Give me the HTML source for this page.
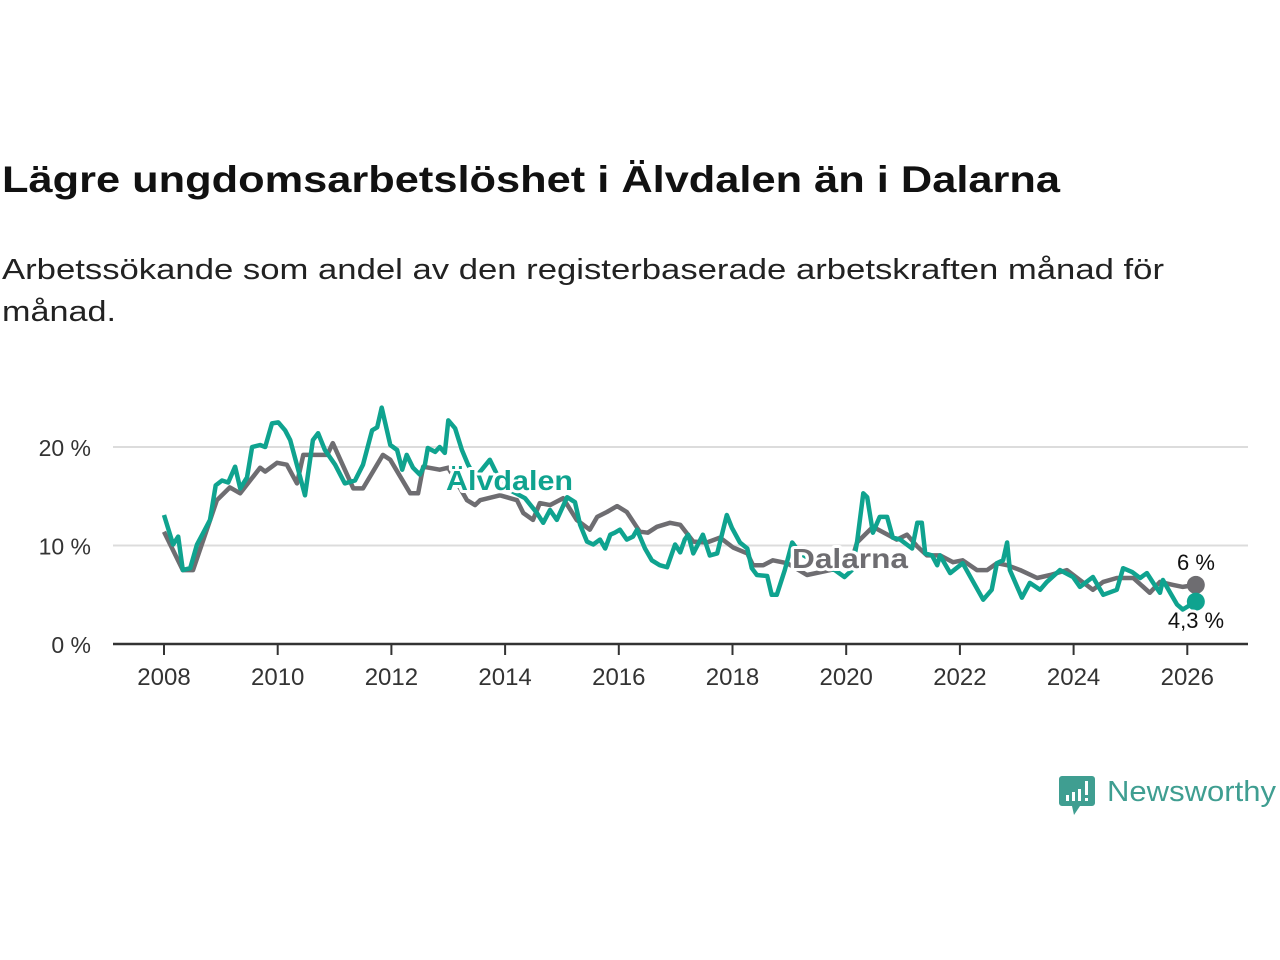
<!DOCTYPE html>
<html><head><meta charset="utf-8"><style>
html,body{margin:0;padding:0;background:#fff;}
svg{display:block;font-family:"Liberation Sans",sans-serif;}
.halo{paint-order:stroke;stroke:#fff;stroke-width:6px;stroke-linejoin:round;}
</style></head><body>
<svg id="chart" width="1280" height="960" viewBox="0 0 1280 960">
<text x="2" y="192" font-size="37" font-weight="bold" fill="#111" textLength="1058" lengthAdjust="spacingAndGlyphs">Lägre ungdomsarbetslöshet i Älvdalen än i Dalarna</text>
<text x="2" y="279" font-size="29" fill="#222" textLength="1162" lengthAdjust="spacingAndGlyphs">Arbetssökande som andel av den registerbaserade arbetskraften månad för</text>
<text x="2" y="321" font-size="29" fill="#222" textLength="114" lengthAdjust="spacingAndGlyphs">månad.</text>
<g id="grid"></g><g id="xaxis"></g><g id="series"></g><g id="labels"></g>
<g>
<path d="M1062 776 h30 a3 3 0 0 1 3 3 v24 a3 3 0 0 1 -3 3 h-12 l-6 9 l-2 -9 h-10 a3 3 0 0 1 -3 -3 v-24 a3 3 0 0 1 3 -3z" fill="#3f9e91"/>
<rect x="1066" y="795" width="3" height="6" fill="#fff"/><rect x="1072" y="792" width="3" height="9" fill="#fff"/><rect x="1078" y="789" width="3" height="12" fill="#fff"/><rect x="1085" y="781" width="3" height="14" fill="#fff"/><rect x="1085" y="798" width="3" height="3" fill="#fff"/>
<text x="1107" y="801" font-size="29" fill="#3f9e91" textLength="169" lengthAdjust="spacingAndGlyphs">Newsworthy</text>
</g>
</svg>
<script>
const yTicks=[0,10,20];
const xTicks=[2008,2010,2012,2014,2016,2018,2020,2022,2024,2026];
const dalYears=[2008.0,2008.33,2008.51,2008.93,2009.16,2009.34,2009.69,2009.78,2009.99,2010.16,2010.34,2010.45,2010.87,2010.97,2011.33,2011.5,2011.85,2011.98,2012.33,2012.47,2012.56,2012.85,2013.0,2013.33,2013.47,2013.56,2013.91,2014.21,2014.32,2014.49,2014.61,2014.79,2015.02,2015.26,2015.49,2015.62,2015.79,2015.97,2016.14,2016.37,2016.51,2016.67,2016.9,2017.08,2017.31,2017.55,2017.78,2018.01,2018.26,2018.36,2018.54,2018.71,2018.96,2019.31,2019.72,2020.07,2020.19,2020.47,2020.89,2021.07,2021.25,2021.42,2021.65,2021.88,2022.05,2022.3,2022.48,2022.65,2022.83,2023.06,2023.36,2023.59,2023.88,2024.11,2024.34,2024.52,2024.76,2025.05,2025.34,2025.52,2025.75,2025.92,2026.15];
const dalValues=[11.4,7.5,7.5,14.6,15.9,15.3,17.9,17.5,18.4,18.2,16.3,19.2,19.2,20.4,15.8,15.8,19.2,18.7,15.3,15.3,18,17.7,17.9,14.6,14.1,14.6,15.1,14.6,13.3,12.6,14.3,14.1,14.8,12.6,11.6,12.9,13.4,14,13.4,11.4,11.3,11.9,12.3,12.1,10.4,10.3,10.8,9.8,9.2,8,8,8.5,8.2,7.0,7.5,8,10.3,11.9,10.6,11.1,9.9,9,9,8.3,8.5,7.5,7.5,8.2,8,7.5,6.7,7,7.5,6.5,5.5,6.3,6.7,6.7,5.2,6.3,6,5.8,6];
const alvYears=[2008.0,2008.16,2008.25,2008.33,2008.46,2008.58,2008.72,2008.81,2008.91,2009.02,2009.13,2009.25,2009.34,2009.46,2009.55,2009.69,2009.78,2009.9,2010.01,2010.13,2010.22,2010.36,2010.48,2010.62,2010.71,2010.83,2011.01,2011.18,2011.36,2011.5,2011.66,2011.75,2011.83,2011.98,2012.1,2012.19,2012.27,2012.38,2012.5,2012.59,2012.64,2012.77,2012.85,2012.94,2013.0,2013.12,2013.24,2013.35,2013.47,2013.59,2013.73,2013.91,2014.09,2014.35,2014.56,2014.67,2014.79,2014.91,2015.09,2015.23,2015.32,2015.44,2015.55,2015.67,2015.76,2015.85,2015.93,2016.02,2016.14,2016.25,2016.32,2016.46,2016.58,2016.72,2016.85,2016.99,2017.08,2017.16,2017.22,2017.31,2017.48,2017.6,2017.73,2017.9,2017.99,2018.13,2018.26,2018.34,2018.43,2018.61,2018.69,2018.78,2018.92,2019.05,2019.19,2019.4,2019.6,2019.8,2019.97,2020.1,2020.19,2020.3,2020.37,2020.47,2020.59,2020.72,2020.82,2020.95,2021.16,2021.25,2021.33,2021.39,2021.51,2021.6,2021.65,2021.83,2022.05,2022.41,2022.56,2022.65,2022.76,2022.83,2022.88,2023.09,2023.23,2023.41,2023.53,2023.76,2023.99,2024.11,2024.34,2024.52,2024.76,2024.87,2025.03,2025.17,2025.29,2025.4,2025.52,2025.57,2025.7,2025.82,2025.92,2026.15];
const alvValues=[13.1,10.1,10.9,7.5,7.7,10.1,11.6,12.6,16.1,16.6,16.4,18,15.8,16.9,20,20.2,20,22.4,22.5,21.7,20.7,17.7,15.1,20.7,21.4,19.7,18.2,16.3,16.6,18.2,21.7,22,24,20.2,19.7,17.7,19.2,17.9,17.2,18.2,19.9,19.5,20,19.4,22.7,21.9,19.7,18.2,16.9,17.7,18.7,16.6,15.6,14.8,13.3,12.3,13.6,12.6,14.9,14.4,12.1,10.4,10.1,10.6,9.7,11.1,11.3,11.6,10.6,10.9,11.6,9.7,8.5,8,7.8,10.1,9.3,10.6,11.1,9.2,11.1,9,9.2,13.1,11.8,10.3,9.7,7.7,7,6.9,5,5,7.5,10.3,9.2,8.5,7.8,7.5,6.8,7.5,10.3,15.3,14.9,11.3,12.9,12.9,10.8,10.6,9.7,12.3,12.3,9.2,9,8,9,7.2,8.2,4.5,5.5,8.2,8.5,10.3,7.5,4.7,6.2,5.5,6.3,7.5,6.8,5.8,6.8,5,5.5,7.7,7.3,6.7,7.2,6.2,5.2,6.5,5.2,4,3.5,4.3];
const NS='http://www.w3.org/2000/svg';
const X0=113,X1=1248;
function xs(y){return 164+(y-2008)*56.85;}
function ys(v){return 644-v*9.85;}
function mk(tag,attrs,parent){const e=document.createElementNS(NS,tag);for(const k in attrs)e.setAttribute(k,attrs[k]);parent.appendChild(e);return e;}
const grid=document.getElementById('grid');
yTicks.forEach(t=>{
  if(t>0){const l=mk('line',{x1:X0,x2:X1,y1:ys(t),y2:ys(t),stroke:'#dcdcdc','stroke-width':2},grid);
  
  }
  const tx=mk('text',{x:91,y:ys(t)+9,'font-size':23,fill:'#333','text-anchor':'end'},grid);
  tx.textContent=t+' %';
  
  
});
const xa=document.getElementById('xaxis');
const ax=mk('line',{x1:X0,x2:X1,y1:644,y2:644,stroke:'#333','stroke-width':2.5},xa);


xTicks.forEach(t=>{
  const tk=mk('line',{x1:xs(t),x2:xs(t),y1:644,y2:655,stroke:'#333','stroke-width':2},xa);
  
  
  const tx=mk('text',{x:xs(t),y:685,'font-size':24,fill:'#333','text-anchor':'middle'},xa);
  tx.textContent=t;
  
  
});
const sg=document.getElementById('series');
function line(years,vals,color,name){
  const d=years.map((y,i)=>(i?'L':'M')+xs(y).toFixed(1)+' '+ys(vals[i]).toFixed(1)).join(' ');
  const p=mk('path',{d:d,fill:'none',stroke:color,'stroke-width':4.5,'stroke-linejoin':'round'},sg);
  
  
  const n=years.length-1;
  const c=mk('circle',{cx:xs(years[n]),cy:ys(vals[n]),r:9,fill:color},sg);
  
  
}
line(dalYears,dalValues,'#6e6d71','dalarna-line');
line(alvYears,alvValues,'#0fa38f','alvdalen-line');
const lg=document.getElementById('labels');
function lab(x,y,txt,color,size,weight,name,anchor,len){
  const a={x:x,y:y,'font-size':size,'font-weight':weight,fill:color,'text-anchor':anchor||'start','class':'halo'};
  if(len){a.textLength=len;a.lengthAdjust='spacingAndGlyphs';}
  const t=mk('text',a,lg);
  t.textContent=txt;
  
  
}
lab(446,490,'Älvdalen','#0fa38f',28,'bold','alvdalen-label','start',127);
lab(792,568,'Dalarna','#6e6d71',28,'bold','dalarna-label','start',116);
lab(1196,570,Math.round(dalValues[dalValues.length-1])+' %','#111',22,'normal','dalarna-end-label','middle');
lab(1196,628,String(alvValues[alvValues.length-1]).replace('.',',')+' %','#111',22,'normal','alvdalen-end-label','middle');
</script>
</body></html>
